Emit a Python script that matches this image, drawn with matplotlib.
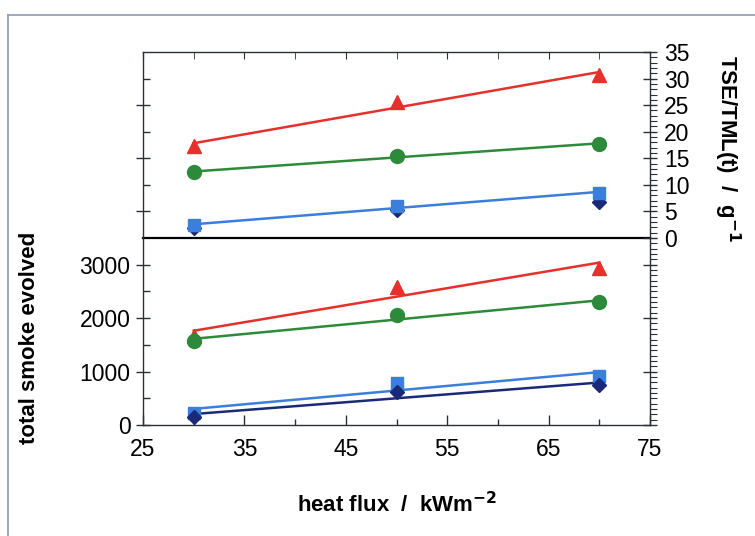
import numpy as np
import matplotlib
matplotlib.use("Agg")
import matplotlib.pyplot as plt
from matplotlib.lines import Line2D
from matplotlib.ticker import MultipleLocator, FixedLocator

plt.rcParams["font.family"] = ["Liberation Sans", "DejaVu Sans"]

# heat flux, kW m^-2
heat_flux = [30, 50, 70]

# top panel: TSE/TML(t), g^-1
tml_red = [17.3, 25.6, 30.7]
tml_green = [12.4, 15.4, 17.7]
tml_blue = [2.4, 6.0, 8.5]
tml_navy = [1.9, 5.3, 6.8]

# bottom panel: total smoke evolved
tse_red = [1670, 2590, 2945]
tse_green = [1575, 2050, 2295]
tse_blue = [231, 787, 919]
tse_navy = [150, 610, 740]

x_major = [25, 35, 45, 55, 65, 75]
x_minor = [30, 40, 50, 60, 70]

RED, GREEN, BLUE, NAVY = "#e5302b", "#2d8a3a", "#3a7fdc", "#1b2a78"
SPINE = "#2b2f3a"
FS_TICK, FS_LAB = 16.5, 16

W, H = 755, 536
fig = plt.figure(figsize=(W / 100, H / 100), dpi=100)
fig.patch.set_facecolor("white")

x0, x1 = 143 / W, 650 / W
y_zero, y_sep, y_top = 1 - 425 / H, 1 - 238 / H, 1 - 52 / H
axb = fig.add_axes([x0, y_zero, x1 - x0, y_sep - y_zero])
axt = fig.add_axes([x0, y_sep, x1 - x0, y_top - y_sep], sharex=axb)


def fit_line(ax, x, y, color, lw=1.8):
    k, b = np.polyfit(x, y, 1)
    xs = np.array([min(x), max(x)])
    ax.plot(xs, k * xs + b, color=color, lw=lw, zorder=2)


# top panel
axt.plot(heat_flux, tml_red, "^", color=RED, ms=10.5, zorder=3)
axt.plot(heat_flux, tml_green, "o", color=GREEN, ms=10, zorder=3)
axt.plot(heat_flux, tml_navy, "D", color=NAVY, ms=7.5, zorder=3)
axt.plot(heat_flux, tml_blue, "s", color=BLUE, ms=9, zorder=3)
fit_line(axt, heat_flux, tml_red, RED)
fit_line(axt, heat_flux, tml_green, GREEN)
fit_line(axt, heat_flux, tml_blue, BLUE)

# bottom panel
axb.plot(heat_flux, tse_red, "^", color=RED, ms=10.5, zorder=3)
axb.plot(heat_flux, tse_green, "o", color=GREEN, ms=10, zorder=3)
axb.plot(heat_flux, tse_blue, "s", color=BLUE, ms=9, zorder=3)
axb.plot(heat_flux, tse_navy, "D", color=NAVY, ms=7.5, zorder=3)
fit_line(axb, heat_flux, tse_red, RED)
fit_line(axb, heat_flux, tse_green, GREEN)
fit_line(axb, heat_flux, tse_blue, BLUE)
fit_line(axb, heat_flux, tse_navy, NAVY)

axb.set_xlim(25, 75)
axb.set_ylim(0, 3500)
axt.set_ylim(0, 35)

for ax in (axb, axt):
    ax.set_facecolor("none")
    for s in ax.spines.values():
        s.set_color(SPINE)
        s.set_linewidth(1.0)

# bottom axes: separator is its top spine
axb.spines["top"].set_color("black")
axb.spines["top"].set_linewidth(1.6)
axt.spines["bottom"].set_visible(False)

# x ticks
axb.xaxis.set_major_locator(FixedLocator(x_major))
axb.xaxis.set_minor_locator(FixedLocator(x_minor))
axb.tick_params(axis="x", which="major", direction="in", length=7, width=1,
                labelsize=FS_TICK, pad=9, color=SPINE, top=False)
axb.tick_params(axis="x", which="minor", direction="in", length=4, width=1,
                color=SPINE, top=False)
axt.tick_params(axis="x", which="both", bottom=False, labelbottom=False,
                top=True, direction="in", length=5, color=SPINE)

# bottom left y: labelled
axb.yaxis.set_major_locator(FixedLocator([0, 1000, 2000, 3000]))
axb.yaxis.set_minor_locator(FixedLocator([500, 1500, 2500]))
axb.tick_params(axis="y", which="major", left=True, right=False, direction="inout",
                length=10, width=1, labelsize=FS_TICK, pad=4, color=SPINE)
axb.tick_params(axis="y", which="minor", left=True, right=False, direction="in",
                length=5, width=1, color=SPINE)

# bottom right y: unlabelled ticks via twin
axbr = axb.twinx()
axbr.set_ylim(axb.get_ylim())
axbr.yaxis.set_major_locator(FixedLocator([0, 1000, 2000, 3000]))
axbr.yaxis.set_minor_locator(MultipleLocator(100))
axbr.tick_params(axis="y", which="major", direction="inout", length=10, width=1,
                 labelright=False, color=SPINE)
axbr.tick_params(axis="y", which="minor", direction="out", length=5, width=0.8,
                 color=SPINE)
for s in axbr.spines.values():
    s.set_visible(False)

# top left y: unlabelled
axt.yaxis.set_major_locator(FixedLocator([5, 15, 25]))
axt.yaxis.set_minor_locator(FixedLocator([10, 20, 30]))
axt.tick_params(axis="y", which="major", left=True, labelleft=False, direction="inout",
                length=10, width=1, color=SPINE)
axt.tick_params(axis="y", which="minor", left=True, direction="in", length=5,
                width=1, color=SPINE)

# top right y: labelled
axtr = axt.twinx()
axtr.set_ylim(axt.get_ylim())
axtr.yaxis.set_major_locator(MultipleLocator(5))
axtr.yaxis.set_minor_locator(MultipleLocator(1))
axtr.tick_params(axis="y", which="major", direction="inout", length=10, width=1,
                 labelsize=FS_TICK, pad=5, color=SPINE)
axtr.tick_params(axis="y", which="minor", direction="out", length=5, width=0.8,
                 color=SPINE)
for s in axtr.spines.values():
    s.set_visible(False)

# axis titles
fig.text(397 / W, 1 - 505 / H, r"heat flux  /  kWm$^{\mathbf{-2}}$", ha="center",
         va="center", fontsize=FS_LAB, fontweight="bold")
fig.text(30 / W, 1 - 338 / H, "total smoke evolved", rotation=90, ha="center",
         va="center", fontsize=FS_LAB, fontweight="bold")
fig.text(727 / W, 1 - 148 / H, r"TSE/TML(t)  /  g$^{\mathbf{-1}}$", rotation=270,
         ha="center", va="center", fontsize=FS_LAB, fontweight="bold")

# outer frame
BORDER = "#8c9bb0"
fig.add_artist(Line2D([8 / W, 1.0], [1 - 15 / H, 1 - 15 / H], color=BORDER, lw=1.2,
                      transform=fig.transFigure))
fig.add_artist(Line2D([8 / W, 8 / W], [0, 1 - 15 / H], color=BORDER, lw=1.2,
                      transform=fig.transFigure))

fig.savefig("out.png", dpi=100)
